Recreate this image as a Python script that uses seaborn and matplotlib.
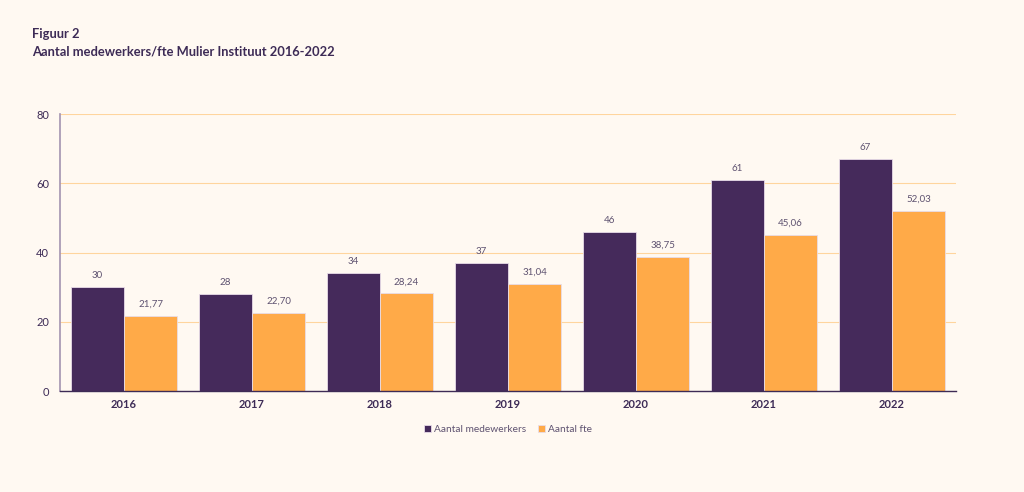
import matplotlib
matplotlib.use("Agg")
import matplotlib.pyplot as plt
import seaborn as sns
import pandas as pd

years = ["2016", "2017", "2018", "2019", "2020", "2021", "2022"]
medewerkers = [30, 28, 34, 37, 46, 61, 67]
fte = [21.77, 22.70, 28.24, 31.04, 38.75, 45.06, 52.03]
series_names = ["Aantal medewerkers", "Aantal fte"]

BG = "#FFF9F2"
PURPLE = "#452A5B"
ORANGE = "#FFAA48"
TEXT = "#3D2B56"
GREY = "#5E5270"


def fmt(v):
    if float(v).is_integer():
        return str(int(v))
    return format(v, ".2f").replace(".", ",")


def main():
    sns.set_theme(style="white")
    plt.rcParams["font.family"] = ["Lato", "DejaVu Sans"]

    df = pd.DataFrame({
        "jaar": years * 2,
        "waarde": medewerkers + fte,
        "reeks": [series_names[0]] * len(years) + [series_names[1]] * len(years),
    })

    fig = plt.figure(figsize=(10.24, 4.92), dpi=100, facecolor=BG)
    ax = fig.add_axes([0.0586, 0.205, 0.8750, 0.563])
    ax.set_facecolor(BG)

    sns.barplot(data=df, x="jaar", y="waarde", hue="reeks", ax=ax,
                palette=[PURPLE, ORANGE], width=0.83, gap=0,
                edgecolor="#E8DCE8", linewidth=0.6, saturation=1)

    for cont, vals in zip(ax.containers, [medewerkers, fte]):
        ax.bar_label(cont, labels=[fmt(v) for v in vals], padding=5,
                     fontsize=7, color=GREY)

    ax.set_ylim(0, 80)
    ax.set_xlim(-0.5, 6.5)
    ax.set_yticks([0, 20, 40, 60, 80])
    ax.yaxis.grid(True, color="#FFD59E", linewidth=0.8)
    ax.set_axisbelow(True)
    ax.set_xlabel("")
    ax.set_ylabel("")
    for s in ["top", "right"]:
        ax.spines[s].set_visible(False)
    ax.spines["left"].set_color("#A393B0")
    ax.spines["left"].set_linewidth(1.2)
    ax.spines["bottom"].set_color(TEXT)
    ax.spines["bottom"].set_linewidth(1.0)
    ax.tick_params(axis="y", labelsize=8, colors=TEXT, length=0, pad=8)
    ax.tick_params(axis="x", labelsize=8, colors=TEXT, length=0, pad=6)
    for lab in ax.get_xticklabels():
        lab.set_fontweight("bold")

    ax.legend(loc="upper center", bbox_to_anchor=(0.5, -0.09), ncol=2,
              frameon=False, fontsize=7.3, handlelength=0.7, handleheight=0.7,
              handletextpad=0.3, columnspacing=1.2, labelcolor=GREY)

    fig.text(0.031, 0.922, "Figuur 2", fontsize=9.3, fontweight="bold", color=TEXT)
    fig.text(0.031, 0.888, "Aantal medewerkers/fte Mulier Instituut 2016-2022",
             fontsize=9.3, fontweight="bold", color=TEXT)

    fig.savefig("out.png", dpi=100, facecolor=BG)


if __name__ == "__main__":
    main()
